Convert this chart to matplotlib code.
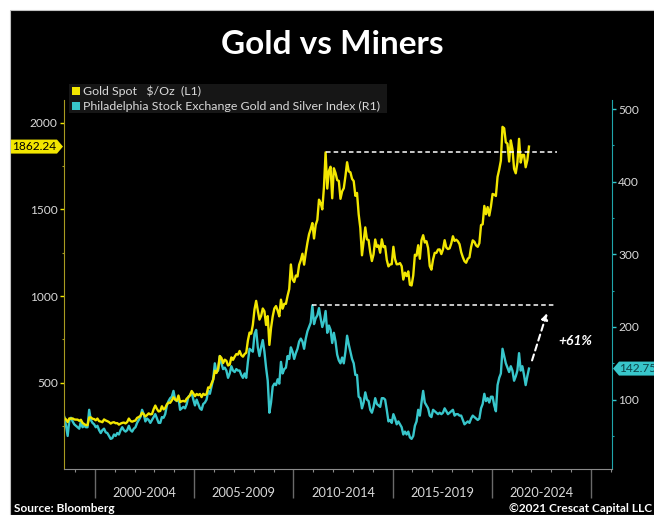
import matplotlib
matplotlib.use('Agg')
import matplotlib.pyplot as plt
from matplotlib.patches import Rectangle, Polygon
from matplotlib.ticker import MultipleLocator
import numpy as np
import pandas as pd

# ---- data (month-end values, Jun 1998 .. Nov 2021) ----
months = pd.date_range('1998-06-01', '2021-11-01', freq='MS')

gold = [
    296, 288, 273, 294, 292, 294, 288,  # 1998 Jun-Dec
    287, 287, 280, 286, 268, 261, 255, 255, 299, 300, 292, 290,  # 1999
    283, 293, 278, 276, 272, 288, 282, 278, 273, 264, 270, 272,  # 2000
    266, 267, 258, 264, 268, 270, 265, 273, 293, 279, 275, 279,  # 2001
    282, 297, 302, 308, 327, 318, 305, 313, 323, 317, 319, 347,  # 2002
    368, 348, 334, 337, 364, 346, 354, 375, 385, 384, 398, 416,  # 2003
    403, 396, 426, 388, 393, 395, 391, 408, 416, 428, 452, 438,  # 2004
    422, 435, 428, 435, 417, 436, 429, 434, 473, 470, 495, 517,  # 2005
    569, 556, 582, 654, 643, 613, 633, 626, 599, 604, 646, 632,  # 2006
    650, 665, 662, 683, 659, 650, 665, 673, 743, 789, 783, 834,  # 2007
    923, 972, 916, 864, 885, 928, 912, 833, 884, 718, 816, 882,  # 2008
    928, 942, 916, 883, 979, 927, 955, 955, 1001, 1040, 1182, 1096,  # 2009
    1081, 1118, 1113, 1180, 1207, 1244, 1181, 1248, 1307, 1357, 1386, 1421,  # 2010
    1332, 1410, 1439, 1556, 1536, 1500, 1628, 1829, 1620, 1722, 1746, 1564,  # 2011
    1737, 1710, 1669, 1664, 1561, 1604, 1622, 1692, 1772, 1719, 1714, 1676,  # 2012
    1663, 1578, 1595, 1472, 1393, 1235, 1313, 1396, 1327, 1323, 1253, 1202,  # 2013
    1240, 1326, 1284, 1292, 1250, 1327, 1282, 1287, 1209, 1171, 1182, 1184,  # 2014
    1284, 1213, 1183, 1184, 1190, 1172, 1095, 1135, 1115, 1142, 1065, 1061,  # 2015
    1118, 1238, 1233, 1293, 1215, 1322, 1351, 1309, 1316, 1277, 1173, 1152,  # 2016
    1211, 1249, 1249, 1268, 1269, 1242, 1269, 1322, 1280, 1271, 1275, 1303,  # 2017
    1345, 1318, 1325, 1316, 1299, 1253, 1224, 1201, 1192, 1215, 1223, 1282,  # 2018
    1321, 1313, 1292, 1284, 1305, 1409, 1414, 1520, 1472, 1513, 1464, 1517,  # 2019
    1589, 1585, 1577, 1687, 1730, 1781, 1976, 1968, 1887, 1879, 1776, 1898,  # 2020
    1848, 1734, 1708, 1769, 1907, 1770, 1814, 1814, 1743, 1783, 1862.24,  # 2021 Jan-Nov
]

xau = [
    76, 64, 50, 72, 75, 70, 66,  # 1998 Jun-Dec
    64, 62, 60, 70, 62, 64, 62, 62, 86, 72, 68, 66,  # 1999
    62, 64, 58, 54, 58, 60, 55, 54, 50, 46, 47, 52,  # 2000
    50, 54, 52, 58, 62, 58, 56, 58, 64, 58, 56, 60,  # 2001
    62, 68, 72, 76, 86, 80, 70, 74, 72, 68, 72, 76,  # 2002
    80, 74, 68, 68, 76, 75, 80, 92, 98, 102, 104, 112,  # 2003
    100, 98, 102, 86, 88, 90, 88, 94, 104, 106, 110, 100,  # 2004
    92, 100, 94, 88, 86, 94, 96, 100, 112, 108, 118, 128,  # 2005
    150, 138, 140, 160, 150, 142, 144, 140, 130, 136, 146, 140,  # 2006
    138, 142, 140, 140, 134, 130, 136, 130, 152, 170, 168, 166,  # 2007
    190, 196, 172, 160, 172, 182, 166, 144, 126, 82, 96, 118,  # 2008
    122, 120, 128, 122, 152, 136, 142, 144, 160, 156, 172, 166,  # 2009
    156, 164, 170, 180, 184, 180, 170, 184, 194, 200, 206, 229.8,  # 2010
    204, 212, 216, 226, 212, 200, 208, 222, 192, 202, 196, 178,  # 2011
    192, 180, 162, 154, 150, 158, 150, 166, 188, 176, 166, 156,  # 2012
    150, 134, 134, 104, 102, 88, 96, 110, 100, 98, 86, 82,  # 2013
    90, 102, 94, 92, 90, 102, 102, 100, 86, 70, 72, 68,  # 2014
    80, 74, 66, 70, 66, 62, 52, 56, 52, 56, 48, 46,  # 2015
    50, 64, 70, 86, 78, 96, 112, 96, 92, 88, 78, 76,  # 2016
    86, 84, 82, 80, 82, 80, 82, 88, 84, 80, 82, 84,  # 2017
    86, 78, 80, 80, 78, 78, 72, 66, 68, 70, 68, 74,  # 2018
    78, 76, 74, 72, 74, 88, 94, 108, 98, 102, 96, 104,  # 2019
    104, 92, 84, 120, 130, 136, 170, 160, 150, 144, 138, 146,  # 2020
    140, 126, 132, 140, 164, 140, 146, 134, 120, 132, 142.75,  # 2021 Jan-Nov
]

period_labels = ['2000-2004', '2005-2009', '2010-2014', '2015-2019', '2020-2024']
period_starts = [2000, 2005, 2010, 2015, 2020]
gold_name = 'Gold Spot   $/Oz  (L1)'
xau_name = 'Philadelphia Stock Exchange Gold and Silver Index (R1)'

years = months.year + (months.month - 0.5) / 12.0

GOLD_C = '#f2e600'
XAU_C = '#38c6cb'
TXT_C = '#d9d9d9'

plt.rcParams['font.family'] = ['Lato', 'DejaVu Sans']

fig = plt.figure(figsize=(6.54, 5.15), dpi=100, facecolor='white')
# black panel with a thin white border on top / left
fig.add_artist(Rectangle((10 / 654, 0), 1, 505 / 515, transform=fig.transFigure,
                         facecolor='black', edgecolor='#c0c0c0', lw=0.8, zorder=0))

ax = fig.add_axes([64 / 654, 46 / 515, 548 / 654, 369 / 515])
ax2 = ax.twinx()
ax.set_zorder(ax2.get_zorder() + 1)  # gold on top
ax.patch.set_visible(False)
ax2.patch.set_visible(False)

ax2.plot(years, xau, color=XAU_C, lw=1.7, solid_joinstyle='round')
ax.plot(years, gold, color=GOLD_C, lw=1.7, solid_joinstyle='round')

ax.set_xlim(1998.44, 2026.06)
ax.set_ylim(2, 2131)
ax2.set_ylim(4.5, 512.5)

# spines
for s in ['top', 'right']:
    ax.spines[s].set_visible(False)
for s in ['top', 'left', 'bottom']:
    ax2.spines[s].set_visible(False)
ax.spines['left'].set_color('#a89a20')
ax.spines['bottom'].set_color('#8a8a8a')
ax2.spines['right'].set_color('#1fa5ab')

# y ticks
ax.yaxis.set_major_locator(MultipleLocator(500))
ax.yaxis.set_minor_locator(MultipleLocator(250))
ax.tick_params(axis='y', which='major', colors=GOLD_C, labelcolor=TXT_C, length=3, width=1, labelsize=8.6, pad=1.5)
ax.tick_params(axis='y', which='minor', colors='#a89a20', length=1.5, width=0.8)
ax2.yaxis.set_major_locator(MultipleLocator(100))
ax2.yaxis.set_minor_locator(MultipleLocator(50))
ax2.tick_params(axis='y', which='major', colors=XAU_C, labelcolor=TXT_C, length=3, width=1, labelsize=8.6, pad=1.5)
ax2.tick_params(axis='y', which='minor', colors='#1fa5ab', length=1.5, width=0.8)

# x ticks: long separators every 5 years, short ticks every year
ax.set_xticks(period_starts + [2025])
ax.set_xticklabels([])
ax.xaxis.set_minor_locator(MultipleLocator(1))
ax.tick_params(axis='x', which='major', colors='#6a6a6a', length=21, width=1)
ax.tick_params(axis='x', which='minor', colors='#8a8a8a', length=2.5, width=0.8)
for start, lab in zip(period_starts, period_labels):
    ax.text(start + 2.5, -0.064, lab, transform=ax.get_xaxis_transform(),
            ha='center', va='center', color=TXT_C, fontsize=9.2)

# previous highs (dashed) and arrow
gold_high = max(g for g, y in zip(gold, years) if y < 2012)
xau_high = max(xau)
ax.hlines(gold_high, 2011.62, 2023.3, colors='white', linestyles=(0, (3, 2)), lw=1.1)
ax2.hlines(xau_high, 2010.96, 2023.2, colors='white', linestyles=(0, (3, 2)), lw=1.1)
ax2.annotate('', xy=(2022.78, 219), xytext=(2022.03, 154),
             arrowprops=dict(arrowstyle='-|>', color='white', lw=1.5,
                             linestyle=(0, (3, 2)), mutation_scale=9, shrinkA=0, shrinkB=0))
pct = (xau_high / xau[-1] - 1) * 100
ax2.text(2024.2, 180.7, f'+{pct:.0f}%', color='white', fontsize=10,
         style='italic', weight='bold', ha='center', va='center')

# title, legend, footer
fig.text(332 / 654, 1 - 45 / 515, 'Gold vs Miners', ha='center', va='center',
         color='white', fontsize=24, weight='bold')
fig.add_artist(Rectangle((69 / 654, 1 - 113 / 515), 318 / 654, 29 / 515,
                         transform=fig.transFigure, facecolor='#161616', edgecolor='none'))
for yy, col, name in [(91, GOLD_C, gold_name), (106, XAU_C, xau_name)]:
    fig.add_artist(Rectangle((72 / 654, 1 - (yy + 4) / 515), 8 / 654, 8 / 515,
                             transform=fig.transFigure, facecolor=col, edgecolor='none'))
    fig.text(83 / 654, 1 - yy / 515, name, ha='left', va='center',
             color=TXT_C, fontsize=8.9)

fig.text(14 / 654, 1 - 508 / 515, 'Source: Bloomberg', ha='left', va='center',
         color='white', fontsize=8.6, weight='bold')
fig.text(652 / 654, 1 - 508 / 515, '\u00a92021 Crescat Capital LLC', ha='right', va='center',
         color='white', fontsize=8.6, weight='bold')

# last-value tags on both axes
to_fig = fig.transFigure.inverted()
yg = to_fig.transform(ax.transData.transform((2000, gold[-1])))[1]
hh = 7 / 515
fig.add_artist(Polygon([(11 / 654, yg - hh), (57 / 654, yg - hh), (63 / 654, yg),
                        (57 / 654, yg + hh), (11 / 654, yg + hh)], closed=True,
                       transform=fig.transFigure, facecolor=GOLD_C, edgecolor='none'))
fig.text(34 / 654, yg, f'{gold[-1]:.2f}', ha='center', va='center', color='black', fontsize=8.6)

yx = to_fig.transform(ax2.transData.transform((2000, xau[-1])))[1]
fig.add_artist(Polygon([(613 / 654, yx), (619 / 654, yx - hh), (1.02, yx - hh),
                        (1.02, yx + hh), (619 / 654, yx + hh)], closed=True,
                       transform=fig.transFigure, facecolor=XAU_C, edgecolor='none'))
fig.text(619 / 654, yx, f'{xau[-1]:.2f}', ha='left', va='center', color='#0d4449', fontsize=8.6)

plt.savefig('out.png', dpi=100, facecolor=fig.get_facecolor())
